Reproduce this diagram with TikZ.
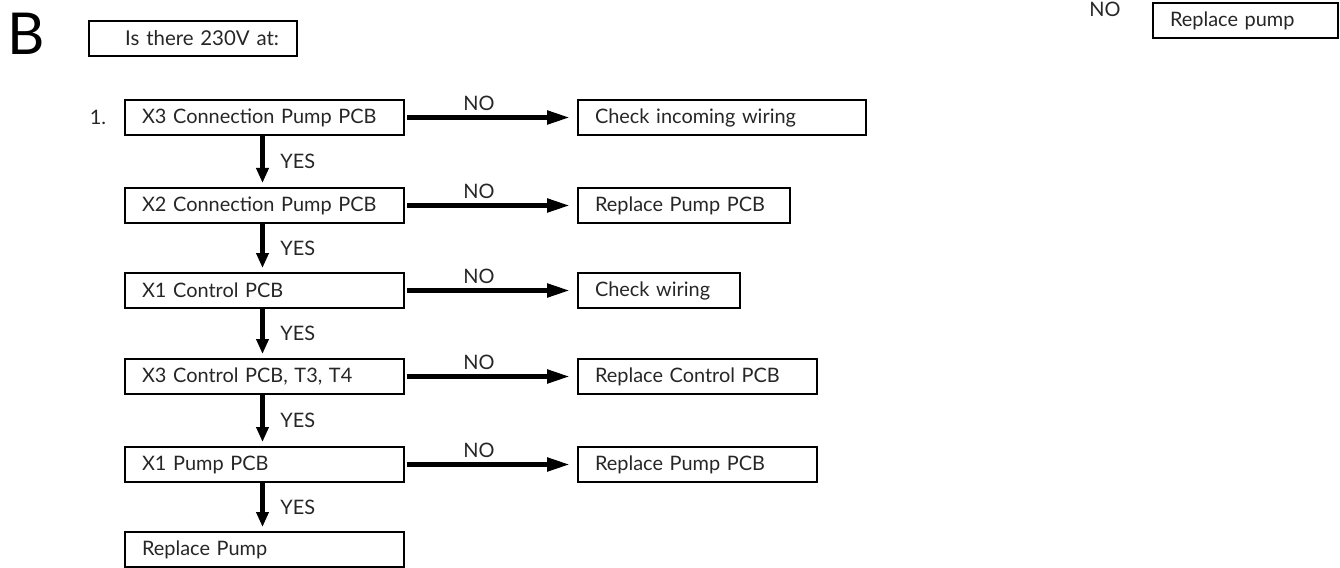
\documentclass[tikz,border=0pt]{standalone}
\usepackage{fontspec}
\setmainfont{Lato}
\usetikzlibrary{arrows.meta}
\begin{document}
\begin{tikzpicture}[x=1bp, y=-1bp,
    box/.style={draw, line width=2bp, anchor=west, minimum height=35bp,
      inner xsep=17bp, inner ysep=0pt, align=left,
      font=\fontsize{20}{24}\selectfont, text=black!85},
    lbl/.style={font=\fontsize{20}{24}\selectfont, text=black!85},
    noarrow/.style={line width=5bp, -{Triangle[length=23bp,width=13bp]},
      shorten <=2bp, shorten >=7bp},
    yesarrow/.style={line width=5bp, -{Triangle[length=15bp,width=12bp]},
      shorten >=4bp}]
    \useasboundingbox (0,0) rectangle (1340,568);

    % Heading
    \node[font=\fontsize{58}{60}\selectfont] (sec) at (26,34) {B};
    \node[box, align=right, text width=172bp, inner xsep=18bp,
      font=\fontsize{20.5}{24}\selectfont] (ask) at (88,38.5) {Is there 230V at:};
    \node[lbl] (num) at (98,117.5) {1.};

    % Define node positions: checks on the left
    \node[box, text width=245bp] (q1) at (124,117.5) {X3 Connection Pump PCB};
    \node[box, text width=245bp] (q2) at (124,205.5) {X2 Connection Pump PCB};
    \node[box, text width=245bp] (q3) at (124,290.5) {X1 Control PCB};
    \node[box, text width=245bp] (q4) at (124,376.5) {X3 Control PCB, T3, T4};
    \node[box, text width=245bp] (q5) at (124,464.5) {X1 Pump PCB};
    \node[box, text width=245bp] (q6) at (124,549.5) {Replace Pump};

    % actions on the right
    \node[box, text width=254bp] (a1) at (577,117.5) {Check incoming wiring};
    \node[box, text width=178bp] (a2) at (577,205.5) {Replace Pump PCB};
    \node[box, text width=128bp] (a3) at (577,290.5) {Check wiring};
    \node[box, text width=205bp] (a4) at (577,376.5) {Replace Control PCB};
    \node[box, text width=205bp] (a5) at (577,464.5) {Replace Pump PCB};

    % top right corner
    \node[lbl] (no0) at (1105,9) {NO};
    \node[box, text width=151bp] (a0) at (1152,20.5) {Replace pump};

    % Draw arrows
    \foreach \i in {1,...,5} {
      \draw[noarrow] (q\i.east) -- (a\i.west)
        node[lbl, pos=0.43, above=1bp] {NO};
    }
    \foreach \i/\j in {1/2,2/3,3/4,4/5,5/6} {
      \draw[yesarrow] ([xshift=-2bp]q\i.south) -- ([xshift=-2bp]q\j.north)
        node[lbl, midway, right=12bp] {YES};
    }
\end{tikzpicture}
\end{document}
